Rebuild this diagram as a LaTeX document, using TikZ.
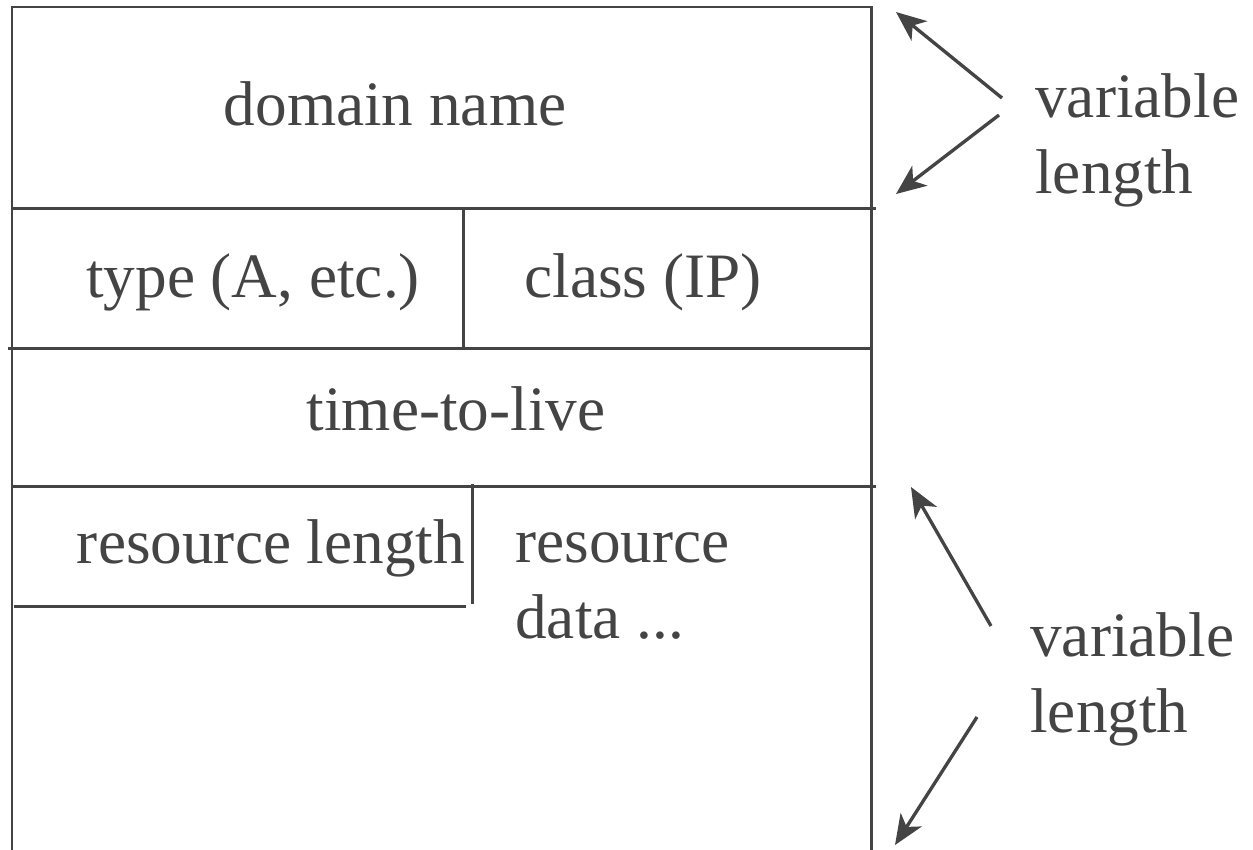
\documentclass[tikz,border=0pt]{standalone}
\usepackage{fontspec}
\setmainfont{Liberation Serif}
\usetikzlibrary{arrows.meta}
\definecolor{ink}{HTML}{444444}

\begin{document}
\begin{tikzpicture}[
				x=0.02cm, y=-0.02cm,
				rule/.style={draw=ink, line width=1.7pt},
				field/.style={inner sep=0pt, text=ink, font=\fontsize{36}{43}\selectfont},
				arrow/.style={-{Stealth[length=0.6cm, width=0.5cm, inset=0.17cm]}, draw=ink, line width=1.9pt}
			]
			\useasboundingbox (0,0) rectangle (1253,849);

			% Record frame
			\draw[rule] (12,855) -- (12,7) -- (871,7) -- (871,855);
			\draw[rule] (12,208) -- (876,208);
			\draw[rule] (8,348) -- (871,348);
			\draw[rule] (12,486) -- (876,486);
			\draw[rule] (463,208) -- (463,348);
			\draw[rule] (472,484) -- (472,604);
			\draw[rule] (14,606) -- (466,606);

			% Fields
			\node[field, anchor=base] (name) at (395,125) {domain name};
			\node[field, anchor=base] (type) at (253,297) {type (A, etc.)};
			\node[field, anchor=base] (class) at (643,297) {class (IP)};
			\node[field, anchor=base] (ttl) at (456,430) {time-to-live};
			\node[field, anchor=base] (rlen) at (271,563) {resource length};
			\node[field, anchor=base west, align=left] (rdata) at (515,638) {resource\\data ...};

			% Side notes
			\node[field, anchor=base west, align=left] (varA) at (1035,193) {variable\\length};
			\node[field, anchor=base west, align=left] (varB) at (1030,732) {variable\\length};

			% Arrows
			\coordinate (varAup) at (1002,98);
			\coordinate (varAdown) at (999,115);
			\coordinate (varBup) at (991,626);
			\coordinate (varBdown) at (977,717);
			\coordinate (nameTop) at (896,12);
			\coordinate (nameBot) at (896,194);
			\coordinate (rdataTop) at (911,487);
			\coordinate (rdataBot) at (895,845);
			\draw[arrow] (varAup) -- (nameTop);
			\draw[arrow] (varAdown) -- (nameBot);
			\draw[arrow] (varBup) -- (rdataTop);
			\draw[arrow] (varBdown) -- (rdataBot);
		\end{tikzpicture}
\end{document}
